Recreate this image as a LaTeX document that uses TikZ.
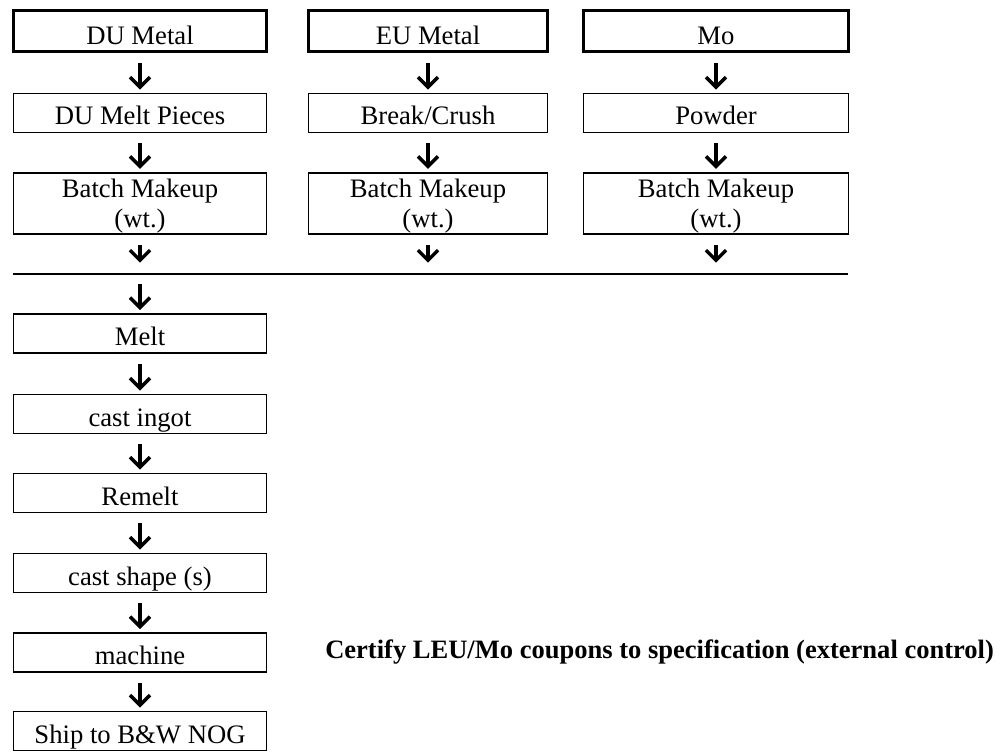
\documentclass[tikz,border=0pt]{standalone}
\usepackage{fontspec}
\setmainfont{Liberation Serif}
\usetikzlibrary{arrows.meta}
\begin{document}
\begin{tikzpicture}[x=0.75pt,y=-0.75pt,
  base/.style={draw, rectangle, inner sep=0pt, font=\fontsize{20}{22.5}\selectfont},
  box/.style={base, line width=1.1pt, minimum height=29pt, text height=18pt, text depth=0pt},
  topbox/.style={base, line width=2pt, minimum height=31pt, text height=21pt, text depth=0pt},
  batch/.style={base, line width=1.1pt, minimum height=46pt, align=center, text depth=-1.5pt},
  colA/.style={minimum width=189.5pt},
  colB/.style={minimum width=179pt},
  colC/.style={minimum width=198.5pt},
  flow/.style={draw=black, line width=2.3pt, -{Straight Barb[length=7.5pt,width=15pt,line width=2.6pt]}, shorten <=7.5pt, shorten >=2.5pt},
  sep/.style={line width=1.5pt}
]
\useasboundingbox (0,0) rectangle (1002,752);
% top rows
\node[topbox,colA] (a1) at (140,31) {DU Metal};
\node[topbox,colB] (b1) at (428,31) {EU Metal};
\node[topbox,colC] (c1) at (716,31) {Mo};
\node[box,colA] (a2) at (140,113) {DU Melt Pieces};
\node[box,colB] (b2) at (428,113) {Break/Crush};
\node[box,colC] (c2) at (716,113) {Powder};
\node[batch,colA] (a3) at (140,203.5) {Batch Makeup\\(wt.)};
\node[batch,colB] (b3) at (428,203.5) {Batch Makeup\\(wt.)};
\node[batch,colC] (c3) at (716,203.5) {Batch Makeup\\(wt.)};
% separator line
\coordinate (Ls) at (13,274);
\coordinate (Le) at (848,274);
\coordinate (L1) at (140,274);
\coordinate (L2) at (428,274);
\coordinate (L3) at (716,274);
\draw[sep] (Ls) -- (Le);
% main column
\node[box,colA] (d1) at (140,333.5) {Melt};
\node[box,colA] (d2) at (140,414) {cast ingot};
\node[box,colA] (d3) at (140,493) {Remelt};
\node[box,colA] (d4) at (140,573) {cast shape (s)};
\node[box,colA] (d5) at (140,652.5) {machine};
\node[box,colA] (d6) at (140,731) {Ship to B\&W NOG};
\node[anchor=west, inner sep=0pt, font=\bfseries\fontsize{19.9}{22.5}\selectfont] (cert) at (325,652.5) {Certify LEU/Mo coupons to specification (external control)};
% arrows
\draw[flow] (a1) -- (a2);
\draw[flow] (b1) -- (b2);
\draw[flow] (c1) -- (c2);
\draw[flow] (a2) -- (a3);
\draw[flow] (b2) -- (b3);
\draw[flow] (c2) -- (c3);
\draw[flow, shorten >=8.5pt] (a3) -- (L1);
\draw[flow, shorten >=8.5pt] (b3) -- (L2);
\draw[flow, shorten >=8.5pt] (c3) -- (L3);
\draw[flow] (L1) -- (d1);
\draw[flow] (d1) -- (d2);
\draw[flow] (d2) -- (d3);
\draw[flow] (d3) -- (d4);
\draw[flow] (d4) -- (d5);
\draw[flow] (d5) -- (d6);
\end{tikzpicture}
\end{document}
